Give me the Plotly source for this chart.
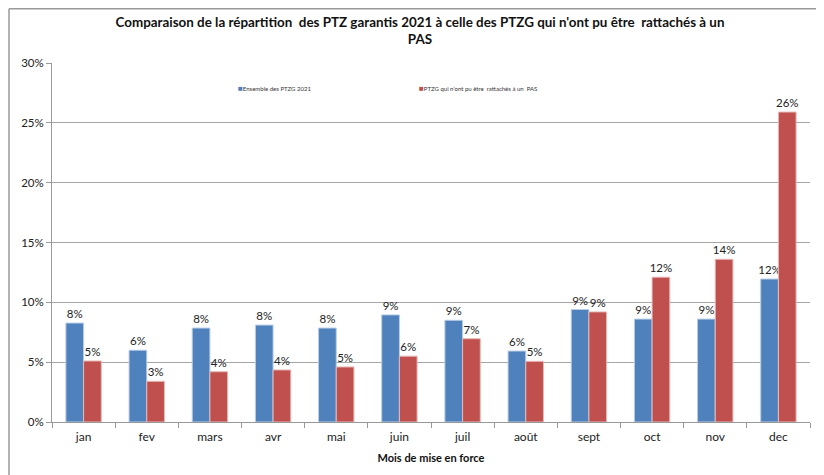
import plotly.graph_objects as go

months = ["jan", "fev", "mars", "avr", "mai", "juin", "juil", "août", "sept", "oct", "nov", "dec"]
ensemble = [0.0827, 0.060, 0.0785, 0.081, 0.0785, 0.0895, 0.085, 0.0593, 0.094, 0.086, 0.086, 0.1195]
non_rattaches = [0.051, 0.034, 0.042, 0.0435, 0.046, 0.055, 0.0696, 0.0507, 0.092, 0.121, 0.136, 0.259]
y_ticks = [0, 0.05, 0.10, 0.15, 0.20, 0.25, 0.30]
name_a = "Ensemble des PTZG 2021"
name_b = "PTZG qui n'ont pu être  rattachés à un  PAS"

# the page body adds an 8px offset; figure sized to fit the window
OFF = 8
W, H = 824 - OFF, 475 - OFF
L, R, T, B = 44, 14, 55, 53
pw, ph = W - L - R, H - T - B

def px_x(p):  # screen px -> paper x
    return (p - OFF - L) / pw

def px_y(p):  # screen px -> paper y
    return (H - B - (p - OFF)) / ph

FONT = "Lato, 'Open Sans', sans-serif"
BLUE, RED = "#4F81BD", "#C0504D"

fig = go.Figure()
fig.add_trace(go.Bar(
    x=months, y=ensemble, name=name_a, showlegend=False,
    marker=dict(color=BLUE, line=dict(color="#B9CDE5", width=1)),
    texttemplate="%{y:.0%}", textposition="outside", constraintext="none",
    textfont=dict(size=11.5, color="#222222", family=FONT), cliponaxis=False,
))
fig.add_trace(go.Bar(
    x=months, y=non_rattaches, name=name_b, showlegend=False,
    marker=dict(color=RED, line=dict(color="#E6B9B8", width=1)),
    texttemplate="%{y:.0%}", textposition="outside", constraintext="none",
    textfont=dict(size=11.5, color="#222222", family=FONT), cliponaxis=False,
))

legend_items = [(name_a, BLUE, 236), (name_b, RED, 417)]
annotations = []
for name, col, xs in legend_items:
    annotations.append(dict(
        text=f"<span style='color:{col};font-size:8px'>■</span>{name}",
        xref="paper", yref="paper", x=px_x(xs), y=px_y(88),
        xanchor="left", yanchor="middle", showarrow=False,
        font=dict(size=6, color="#333333", family=FONT),
    ))

fig.update_layout(
    width=W, height=H,
    margin=dict(l=L, r=R, t=T, b=B, autoexpand=False),
    paper_bgcolor="white", plot_bgcolor="white",
    font=dict(family=FONT, color="#222222"),
    barmode="group", bargap=0.44, bargroupgap=0.0,
    title=dict(
        text="<b>Comparaison de la répartition  des PTZ garantis 2021 à celle des PTZG qui n'ont pu être  rattachés à un<br>PAS</b>",
        x=(420 - OFF) / W, xanchor="center", y=1 - 19 / H, yanchor="top",
        font=dict(size=13.4, color="#111111", family=FONT),
    ),
    annotations=annotations,
    xaxis=dict(
        showline=True, linecolor="#999999", linewidth=1,
        ticks="outside", tickson="boundaries", ticklen=5, tickcolor="#999999",
        ticklabelstandoff=4,
        tickfont=dict(size=12, color="#222222", family=FONT),
        title=dict(text="<b>Mois de mise en force</b>", font=dict(size=11, color="#111111", family=FONT), standoff=10),
        showgrid=False, automargin=False,
    ),
    yaxis=dict(
        range=[0, 0.30], tickvals=y_ticks, tickformat=".0%",
        showline=True, linecolor="#999999", linewidth=1,
        ticks="outside", ticklen=5, tickcolor="#999999",
        showgrid=True, gridcolor="#A6A6A6", gridwidth=1,
        tickfont=dict(size=11.5, color="#222222", family=FONT),
        zeroline=False, automargin=False,
    ),
    shapes=[
        dict(type="line", xref="paper", yref="paper", x0=px_x(9), x1=1 + R / pw, y0=px_y(8.8), y1=px_y(8.8),
             line=dict(color="#999999", width=1.5)),
        dict(type="line", xref="paper", yref="paper", x0=px_x(9), x1=px_x(9), y0=px_y(8.8), y1=px_y(475),
             line=dict(color="#999999", width=1.5)),
    ],
)

fig.write_html("out.html")
